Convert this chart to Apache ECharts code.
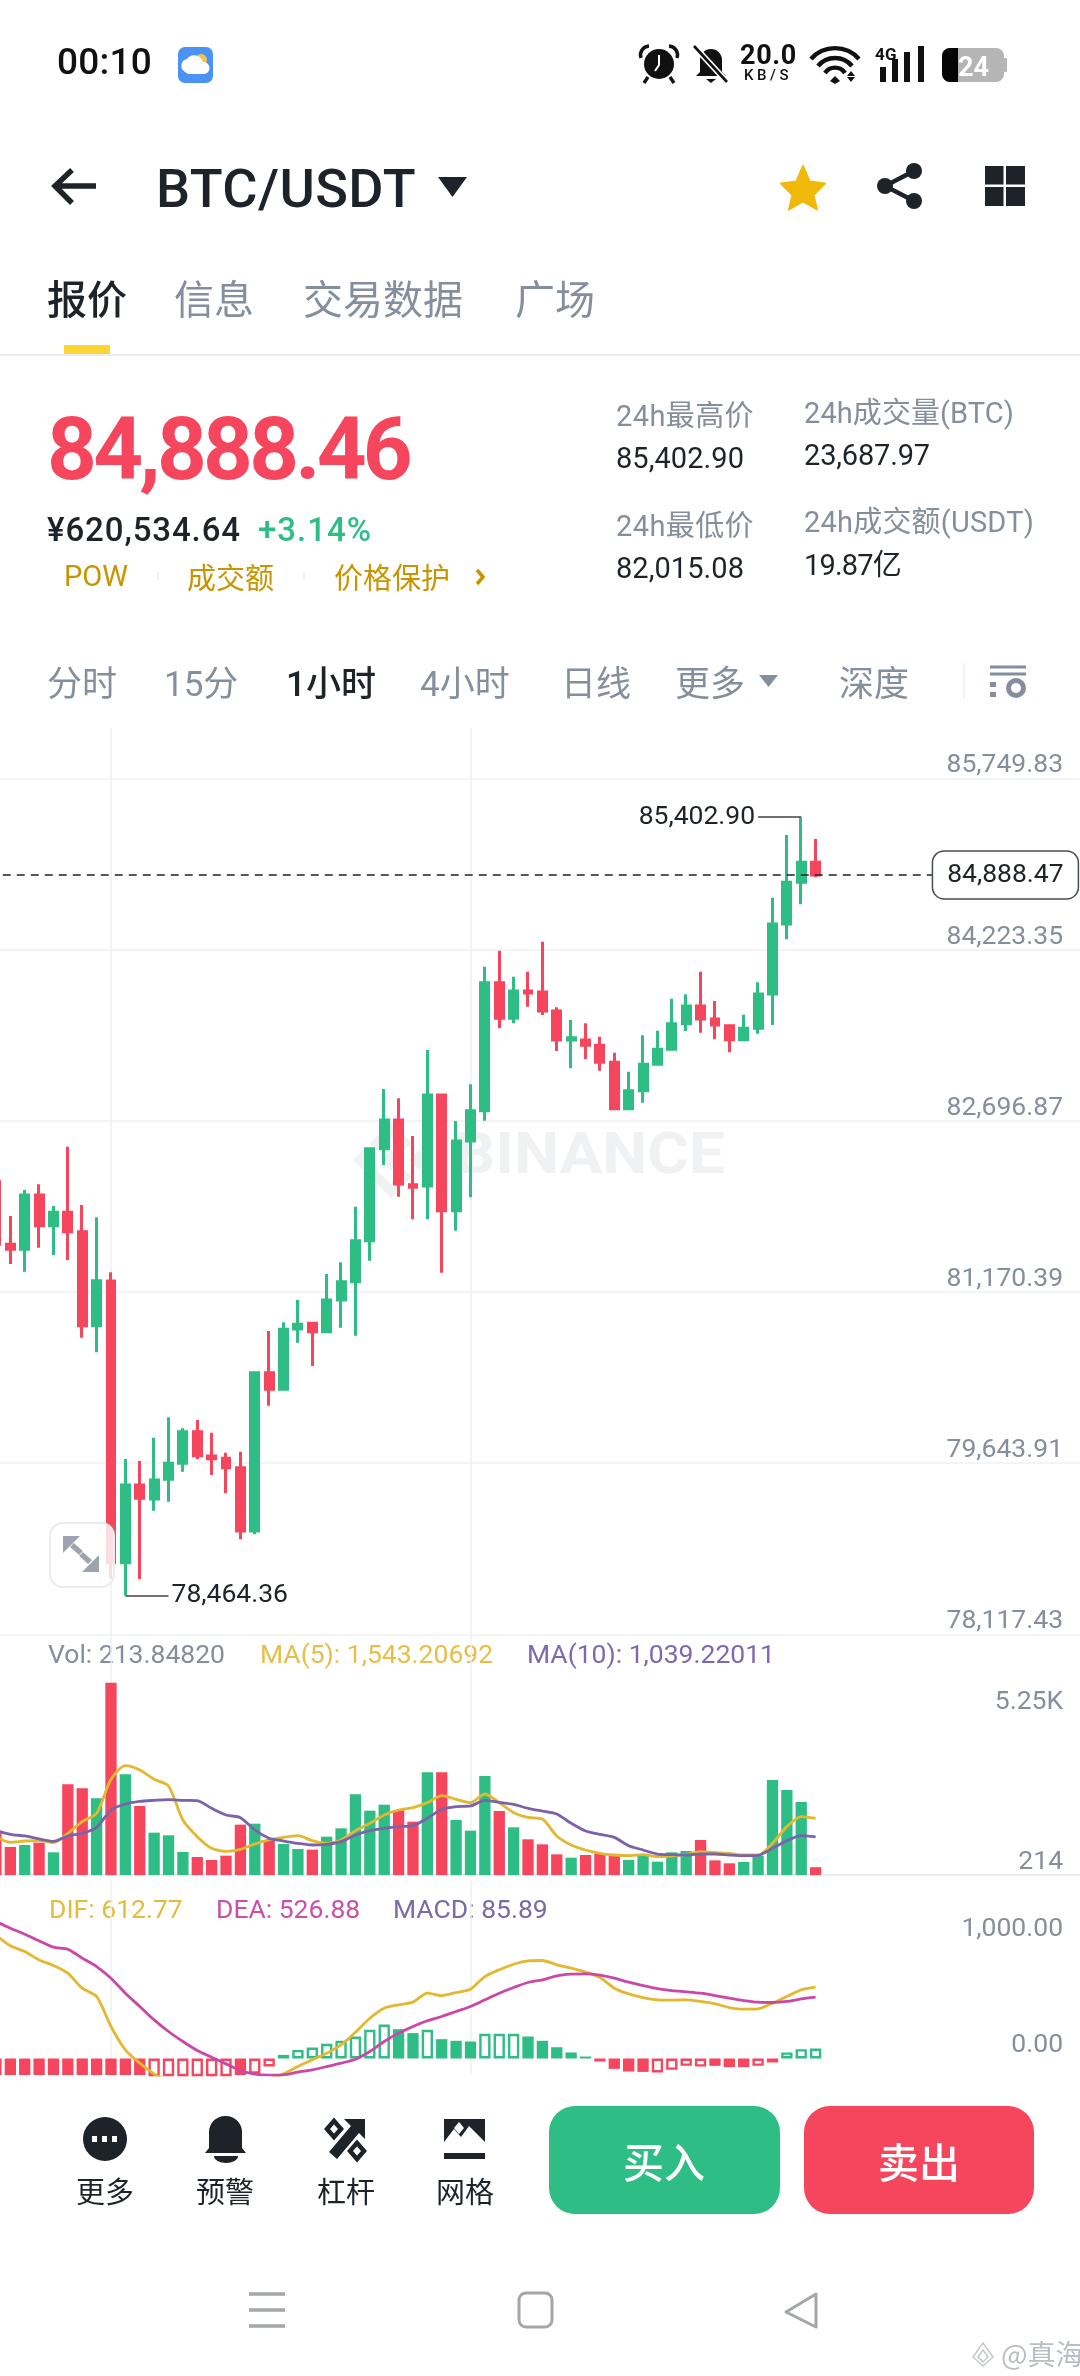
<!DOCTYPE html>
<html>
<head>
<meta charset="utf-8">
<style>
html,body{margin:0;padding:0;background:#fff;width:1080px;height:2376px;overflow:hidden;font-family:Roboto,"Noto Sans CJK SC",sans-serif}
#chart{position:absolute;left:0;top:0;width:1080px;height:2376px}
#ui{position:absolute;left:0;top:0;width:1080px;height:2376px;pointer-events:none}
.t{position:absolute;white-space:nowrap;transform:translateY(-50%);line-height:1.2}
svg{position:absolute;overflow:visible}
</style>
<script src="https://cdn.jsdelivr.net/npm/echarts@6/dist/echarts.min.js"></script>
</head>
<body>
<div id="chart"></div>
<div id="ui"></div>
<script>
// ---------- data ----------
const categories = ['c01','c02','c03','c04','c05','c06','c07','c08','c09','c10','c11','c12','c13','c14','c15','c16','c17','c18','c19','c20','c21','c22','c23','c24','c25','c26','c27','c28','c29','c30','c31','c32','c33','c34','c35','c36','c37','c38','c39','c40','c41','c42','c43','c44','c45','c46','c47','c48','c49','c50','c51','c52','c53','c54','c55','c56','c57','c58','f01','f02','f03','f04','f05','f06','f07','f08','f09','f10','f11','f12','f13','f14','f15','f16','f17','f18'];
const opens = [82153,81595,81550,82034,81761,81880,81707,80869,81268,78756,79449,79324,79500,79642,79924,79707,79687,79603,79039,80450,80302,80840,80891,80816,81098,81262,81627,82447,82703,82126,82115,82926,81894,82516,82786,83927,83610,83853,83844,83675,83416,83416,83369,83218,82804,82964,83200,83334,83562,83720,83604,83544,83419,83521,83827,84451,84822,85001];
const closes = [81595,81550,82034,81761,81880,81707,80869,81270,78756,79449,79330,79493,79642,79924,79710,79683,79603,79039,80450,80302,80837,80882,80816,81098,81262,81627,82447,82703,82133,82103,82926,81894,82516,82786,83927,83610,83853,83836,83675,83416,83437,83369,83218,82804,82964,83200,83334,83562,83720,83604,83550,83419,83521,83827,84451,84822,85001,84888.47];
const lows = [81544,81419,81351,81565,81500,81455,80762,80632,78611,78464.36,78611,79220,79300,79567,79681,79538,79375,78965,79009,80156,80300,80718,80510,80812,80851,80780,81449,82302,82019,81818,81818,81342,81716,82014,82697,83521,83565,83713,83639,83318,83164,83247,83143,82800,82792,82857,83195,83330,83497,83482,83423,83307,83415,83473,83550,84314,84626,84867];
const highs = [82213,81847,82079,82130,81936,82465,81945,81836,81345,79681,79663,79871,80052,79954,80028,79915,79737,79746,80455,80822,80900,81098,80905,81330,81434,81930,82450,82980,82897,82560,83327,82930,82694,83021,84070,84213,83981,84025,84293,83708,83595,83565,83446,83303,83134,83458,83499,83785,83824,84025,83764,83556,83642,83931,84685,85244,85402.90,85209];
const volumes = [1137,764,819,883,619,2475,2366,2093,5250,2748,1884,1156,1083,628,491,410,528,1374,1401,956,846,710,692,1047,1274,2202,1756,1920,1775,1456,2803,2803,1502,1210,2703,1747,1301,974,837,564,473,546,592,528,410,564,364,619,655,956,400,319,355,528,2594,2321,1993,213.85];
const ma5 = [1047,892,928,937,883,1138,1456,1684,2612,2985,2867,2612,2430,1502,1047,728,646,701,846,956,1028,1074,937,865,956,1210,1411,1638,1775,1838,1975,2166,2066,1975,2211,1975,1702,1574,1529,1065,819,683,592,546,528,555,501,519,564,637,610,592,546,546,865,1320,1593,1543.21];
const ma10 = [1210,1110,1065,983,919,1065,1138,1301,1775,1938,2011,2038,2057,2038,2029,1820,1638,1565,1229,1001,928,865,819,837,910,1092,1210,1274,1320,1347,1547,1793,1866,1884,2038,1984,1929,1820,1747,1665,1411,1201,1110,1028,801,683,573,555,546,573,573,546,528,537,728,937,1074,1039.22];
const dif = [1062,968,919,847,799,733,604,533,275,74,-40,-132,-190,-235,-270,-300,-310,-290,-240,-180,-132,-69,-11,46,117,226,346,432,461,484,561,541,567,595,704,762,810,839,842,805,776,742,696,604,555,524,504,501,504,490,470,438,424,427,475,533,590,612.77];
const dea = [1177,1119,1068,1011,956,939,862,790,690,561,447,332,232,146,69,11,-46,-103,-135,-143,-140,-117,-97,-69,-40,-6,60,146,218,275,324,361,404,447,504,561,610,653,676,710,724,727,716,690,656,627,601,584,573,561,541,518,498,484,481,490,512,526.88];
const macd = [-170,-180,-185,-190,-195,-209,-260,-300,-386,-450,-487,-500,-480,-440,-390,-340,-280,-210,-130,-68,31,74,94,126,152,189,246,292,252,218,246,166,152,146,212,212,212,189,152,97,52,17,-26,-89,-112,-115,-120,-97,-63,-69,-63,-74,-74,-63,-34,52,80,85.89];
const macdHollow = [0,0,0,0,0,0,0,0,0,0,0,1,1,1,1,1,1,0,1,1,0,1,1,1,1,1,1,1,0,0,1,0,0,0,1,1,1,0,0,0,0,0,0,0,0,0,1,1,1,1,0,0,0,1,0,1,1,1];
const priceTicks = [85749.83,84223.35,82696.87,81170.39,79643.91,78117.43];
const volTicks = [214,5250];
const macdTicks = [0,1000];
const lastPrice = 84888.47, dayHigh = 85402.90, dayLow = 78464.36;
const gridMarks = ['c09','c34'];

const GREEN='#2EBD85', RED='#F6465D', GREY='#858E9C', DARK='#1E2329', LINE='#EEF0F2';
const fontFam='Roboto,"Noto Sans CJK SC",sans-serif';
const AX=26.5;
const fmt2=v=>v.toLocaleString('en-US',{minimumFractionDigits:2,maximumFractionDigits:2});
const band=14.38, gl=-11.24, gw=band*categories.length;

const xa=(gi,extra)=>Object.assign({type:'category',gridIndex:gi,data:categories,boundaryGap:true,
  axisLabel:{show:false},axisTick:{show:false},axisLine:{show:false},splitLine:{show:false}},extra||{});
const labelBase={show:true,inside:true,color:GREY,fontSize:AX,fontFamily:fontFam,margin:18.6};

const option={
  animation:false,
  backgroundColor:'transparent',
  grid:[
    {left:gl,width:gw,top:727.5,height:906.8,outerBoundsMode:'none'},
    {left:gl,width:gw,top:1635,height:240,outerBoundsMode:'none'},
    {left:gl,width:gw,top:1880,height:195,outerBoundsMode:'none'}
  ],
  xAxis:[
    xa(0),
    xa(1,{axisLine:{show:true,onZero:true,lineStyle:{color:'#EAECEF',width:2}}}),
    xa(2)
  ],
  yAxis:[
    {type:'value',gridIndex:0,position:'right',min:78117.43,max:86202.8,scale:true,
     axisLine:{show:false},axisTick:{show:false,customValues:priceTicks},
     splitLine:{show:true,lineStyle:{color:'#EEF0F2',width:1.5}},
     axisLabel:Object.assign({},labelBase,{customValues:priceTicks,verticalAlign:'bottom',lineHeight:25,formatter:v=>fmt2(v)})},
    {type:'value',gridIndex:1,position:'right',min:0,max:6552,
     axisLine:{show:false},axisTick:{show:false,customValues:volTicks},splitLine:{show:false},
     axisLabel:Object.assign({},labelBase,{customValues:volTicks,verticalAlign:'middle',
       formatter:v=>v>=1000?'{hi|'+(v/1000).toFixed(2)+'K}':'{lo|'+v+'}',
       rich:{hi:{color:GREY,fontSize:AX,fontFamily:fontFam,padding:[40,0,0,0]},lo:{color:GREY,fontSize:AX,fontFamily:fontFam,padding:[0,0,10,0]}}})},
    {type:'value',gridIndex:2,position:'right',min:-141.7,max:1533.4,
     axisLine:{show:false},axisTick:{show:false,customValues:macdTicks},splitLine:{show:false},
     axisLabel:Object.assign({},labelBase,{customValues:macdTicks,verticalAlign:'bottom',lineHeight:26,formatter:v=>fmt2(v)})}
  ],
  graphic:{elements:[
    {type:'text',z:0,silent:true,x:725,y:1158,scaleX:1.1,
     style:{text:'BINANCE',fill:'#F0F1F2',font:'700 58px Roboto',textAlign:'right',textVerticalAlign:'middle'}},
    {type:'polygon',z:0,silent:true,shape:{points:[[381,1160],[391,1150],[401,1160],[391,1170]]},style:{fill:'#F0F1F2'}},
    {type:'polygon',z:0,silent:true,shape:{points:[[353,1160],[363,1150],[373,1160],[363,1170]]},style:{fill:'#F0F1F2'}},
    {type:'polygon',z:0,silent:true,shape:{points:[[409,1160],[419,1150],[429,1160],[419,1170]]},style:{fill:'#F0F1F2'}},
    {type:'polygon',z:0,silent:true,shape:{points:[[370,1143],[391,1122],[412,1143],[405,1150],[391,1136],[377,1150]]},style:{fill:'#F0F1F2'}},
    {type:'polygon',z:0,silent:true,shape:{points:[[370,1177],[391,1198],[412,1177],[405,1170],[391,1184],[377,1170]]},style:{fill:'#F0F1F2'}},
    {type:'text',x:48,y:1656,style:{text:'Vol: 213.84820',fill:GREY,font:AX+'px Roboto',textVerticalAlign:'middle'}},
    {type:'text',x:260,y:1656,style:{text:'MA(5): 1,543.20692',fill:'#E6BE48',font:AX+'px Roboto',textVerticalAlign:'middle'}},
    {type:'text',x:527,y:1656,style:{text:'MA(10): 1,039.22011',fill:'#7F69AE',font:AX+'px Roboto',textVerticalAlign:'middle'}},
    {type:'text',x:49,y:1911,style:{text:'DIF: 612.77',fill:'#E2BC3F',font:AX+'px Roboto',textVerticalAlign:'middle'}},
    {type:'text',x:216,y:1911,style:{text:'DEA: 526.88',fill:'#CC4EA9',font:AX+'px Roboto',textVerticalAlign:'middle'}},
    {type:'text',x:393,y:1911,style:{text:'MACD: 85.89',fill:'#7A6AA8',font:AX+'px Roboto',textVerticalAlign:'middle'}}
  ]},
  series:[
    {type:'line',xAxisIndex:0,yAxisIndex:0,data:[],z:1,silent:true,
     markLine:{z:1,silent:true,symbol:'none',animation:false,label:{show:false},lineStyle:{color:LINE,width:1.5,type:'solid'},data:gridMarks.map(c=>({xAxis:c}))}},
    {type:'line',xAxisIndex:1,yAxisIndex:1,data:[],z:1,silent:true,
     markLine:{z:1,silent:true,symbol:'none',animation:false,label:{show:false},lineStyle:{color:LINE,width:1.5,type:'solid'},data:gridMarks.map(c=>({xAxis:c}))}},
    {type:'line',xAxisIndex:2,yAxisIndex:2,data:[],z:1,silent:true,
     markLine:{z:1,silent:true,symbol:'none',animation:false,label:{show:false},lineStyle:{color:LINE,width:1.5,type:'solid'},data:gridMarks.map(c=>({xAxis:c}))}},
    {type:'candlestick',xAxisIndex:0,yAxisIndex:0,z:3,barWidth:8.4,
     data:opens.map((o,i)=>[o,closes[i],lows[i],highs[i]]),
     itemStyle:{color:GREEN,color0:RED,borderColor:GREEN,borderColor0:RED,borderWidth:3},
     markLine:{silent:true,symbol:'none',animation:false,z:5,
       data:[
         {yAxis:lastPrice,lineStyle:{color:DARK,width:1.6,type:[8,6]},
          label:{show:true,position:'insideEnd',distance:4,formatter:()=>fmt2(lastPrice),color:DARK,fontSize:AX,fontFamily:fontFam,
            backgroundColor:'#fff',borderColor:'#474D57',borderWidth:1.5,borderRadius:11,padding:[13,14,7,14]}},
         [{coord:['c57',dayHigh],lineStyle:{color:'#3C4249',width:1.5,type:'solid'},
           label:{show:true,position:'end',distance:3,formatter:()=>fmt2(dayHigh),color:DARK,fontSize:AX,fontFamily:fontFam}},
          {coord:['c54',dayHigh]}],
         [{coord:['c10',dayLow],lineStyle:{color:'#3C4249',width:1.5,type:'solid'},
           label:{show:true,position:'end',distance:3,formatter:()=>fmt2(dayLow),color:DARK,fontSize:AX,fontFamily:fontFam}},
          {coord:['c13',dayLow]}]
       ]}},
    {type:'bar',xAxisIndex:1,yAxisIndex:1,z:2,barWidth:11.3,
     data:volumes.map((v,i)=>({value:v,itemStyle:{color:closes[i]>=opens[i]?GREEN:RED}}))},
    {type:'line',xAxisIndex:1,yAxisIndex:1,z:3,data:ma5,symbol:'none',smooth:0.25,lineStyle:{color:'#E4B82E',width:2.8}},
    {type:'line',xAxisIndex:1,yAxisIndex:1,z:4,data:ma10,symbol:'none',smooth:0.25,lineStyle:{color:'#7C62AA',width:2.8}},
    {type:'bar',xAxisIndex:2,yAxisIndex:2,z:2,barWidth:11.3,clip:true,
     data:macd.map((v,i)=>{const c=v>=0?GREEN:RED;return {value:v,itemStyle:macdHollow[i]?{color:'#fff',borderColor:c,borderWidth:2.4}:{color:c}};})},
    {type:'line',xAxisIndex:2,yAxisIndex:2,z:3,data:dif,symbol:'none',smooth:0.25,clip:true,lineStyle:{color:'#E4B82E',width:2.8}},
    {type:'line',xAxisIndex:2,yAxisIndex:2,z:4,data:dea,symbol:'none',smooth:0.25,clip:true,lineStyle:{color:'#CC46A8',width:2.8}}
  ]
};
echarts.init(document.getElementById('chart'),null,{width:1080,height:2376,renderer:'canvas'}).setOption(option);

// ---------- app chrome around the chart ----------
const ui=document.getElementById('ui');
const CJK='"Noto Sans CJK SC",Roboto,sans-serif';
ui.insertAdjacentHTML('beforeend',`
<div style="position:absolute;left:64px;top:345px;width:46px;height:10px;background:#FCD535"></div>
<div style="position:absolute;left:0;top:354px;width:1080px;height:2px;background:#EAECEF"></div>
<div style="position:absolute;left:549px;top:2106px;width:231px;height:108px;background:${GREEN};border-radius:26px"></div>
<div style="position:absolute;left:804px;top:2106px;width:230px;height:108px;background:${RED};border-radius:26px"></div>
<div style="position:absolute;left:49px;top:1522px;width:62px;height:62px;background:rgba(255,255,255,.82);border:2px solid #EAECEF;border-radius:14px"></div>`);
function T(text,x,yc,size,color,w,weight,fam){
  const d=document.createElement('div');d.className='t';d.textContent=text;
  d.style.cssText+=`left:${x}px;top:${yc}px;font-size:${size}px;color:${color};font-weight:${weight||400};font-family:${fam||'Roboto,"Noto Sans CJK SC",sans-serif'}`;
  ui.appendChild(d);
  if(w){const r=d.getBoundingClientRect().width;d.style.letterSpacing=((w-r)/(text.length))+'px';}
}
T('00:10',57,62,37,'#111',95,500);
T('20.0',740,55,27,'#111',57,700);
T('KB/S',744,75,15,'#111',48,500);
T('4G',875,54,17,'#111',22,700);
T('BTC/USDT',156,189,54,DARK,260,500);
[['报价',47,DARK,500],['信息',174,GREY,400],['交易数据',303,GREY,400],['广场',515,GREY,400]].forEach(a=>T(a[0],a[1],297,40,a[2],0,a[3],CJK));
T('84,888.46',47,449,87,RED,362,700);
T('¥620,534.64',47,530,33,DARK,194,500);
T('+3.14%',258,530,33,GREEN,114,500);
T('POW',64,576,29,'#C99400',64,400);
T('成交额',187,576,29,'#C99400',0,400,CJK);
T('价格保护',334,576,29,'#C99400',0,400,CJK);
T('24h最高价',616,416,29,GREY,138);
T('85,402.90',616,458,29,DARK,128);
T('24h成交量(BTC)',804,413,29,GREY,210);
T('23,687.97',804,455,29,DARK,126);
T('24h最低价',616,526,29,GREY,138);
T('82,015.08',616,568,29,DARK,128);
T('24h成交额(USDT)',804,522,29,GREY,230);
T('19.87亿',804,565,29,DARK,97);
[['分时',47,GREY,400],['15分',164,GREY,400],['1小时',286,DARK,500],['4小时',420,GREY,400],['日线',561,GREY,400],['更多',675,GREY,400],['深度',839,GREY,400]].forEach(a=>T(a[0],a[1],685,35,a[2],0,a[3]));
[['更多',76],['预警',196],['杠杆',317],['网格',436]].forEach(a=>T(a[0],a[1],2190,29,DARK,0,400,CJK));
T('买入',623,2161,41,'#fff',0,500,CJK);
T('卖出',878,2161,41,'#fff',0,500,CJK);
T('@真海',1001,2354,28,'#B9BDC4',0,400,CJK);

ui.insertAdjacentHTML('beforeend',`
<svg width="1080" height="2376" style="left:0;top:0">
 <!-- weather -->
 <rect x="178" y="47" width="35" height="36" rx="7" fill="#4A93F5"/>
 <circle cx="201" cy="60" r="6" fill="#F6C343"/>
 <path d="M185 72a7 7 0 0 1 2-13a9 9 0 0 1 16 3a6 6 0 0 1 1 12h-16z" fill="#fff"/>
 <!-- alarm -->
 <circle cx="659" cy="64" r="15" fill="#111"/><path d="M659 55v10l-4 6" stroke="#fff" stroke-width="2" fill="none"/>
 <path d="M641 58a9 9 0 0 1 8-12M677 58a9 9 0 0 0-8-12M648 77l-4 6M670 77l4 6" stroke="#111" stroke-width="3.4" fill="none"/>
 <!-- mute -->
 <path d="M711 49a11 11 0 0 1 11 11v12l4 4h-30l4-4v-12a11 11 0 0 1 11-11z" fill="#111"/><path d="M706 79h10l-5 4z" fill="#111"/>
 <path d="M694 46l33 36" stroke="#fff" stroke-width="6"/><path d="M694 46l33 36" stroke="#111" stroke-width="2.6"/>
 <!-- wifi -->
 <g fill="none" stroke="#111" stroke-width="4.4"><path d="M811 59a32 32 0 0 1 48 0"/><path d="M818 66a22 22 0 0 1 34 0"/><path d="M825 73a12 12 0 0 1 20 0"/></g>
 <path d="M835 76l5 5-5 3-5-3z" fill="#111"/><path d="M851 71l4 5h-8zM851 82l4-5h-8z" fill="#111"/>
 <!-- signal -->
 <rect x="880" y="67" width="6" height="15" fill="#111"/><rect x="892" y="59" width="6" height="23" fill="#111"/><rect x="904" y="52" width="6" height="30" fill="#111"/><rect x="918" y="46" width="6" height="36" fill="#111"/>
 <!-- battery -->
 <rect x="942" y="48" width="62" height="34" rx="8" fill="#B5B5B5"/><path d="M950 48h8v34h-8a8 8 0 0 1-8-8v-18a8 8 0 0 1 8-8z" fill="#050505"/>
 <rect x="1004" y="58" width="3" height="14" rx="1" fill="#B5B5B5"/>
 <text x="958" y="76" font-family="Roboto" font-weight="700" font-size="27" fill="#fff">24</text>
 <!-- back arrow -->
 <path d="M96 186H58M72 170L55 186L72 203" fill="none" stroke="${DARK}" stroke-width="5.5"/>
 <path d="M438 177h29l-14.500 20z" fill="${DARK}"/>
 <!-- star -->
 <path d="M803 166l6.500 15.500 15.500 2-11.500 11.500 3.500 14.500-14-8-14 8 3.500-14.500-11.500-11.500 15.500-2z" fill="#F0B90B" stroke="#F0B90B" stroke-width="2" stroke-linejoin="round"/>
 <!-- share -->
 <g fill="${DARK}"><circle cx="914" cy="171" r="8"/><circle cx="885" cy="186" r="8"/><circle cx="914" cy="201" r="8"/></g>
 <path d="M914 171l-29 15 29 15" fill="none" stroke="${DARK}" stroke-width="4.500"/>
 <!-- layout -->
 <g fill="${DARK}"><rect x="985" y="166" width="18.500" height="18.500"/><rect x="1006" y="166" width="19" height="18.500"/><rect x="985" y="187" width="18.500" height="19"/><rect x="1006" y="187" width="19" height="19"/></g>
 <!-- small marks -->
 <path d="M477 570l6 7-6 7" fill="none" stroke="#C99400" stroke-width="3.500"/>
 <path d="M158 572v8M304 572v8" stroke="#EAECEF" stroke-width="1.500"/>
 <path d="M759 675h19l-9.500 12z" fill="${GREY}"/>
 <path d="M964 663v35" stroke="#EAECEF" stroke-width="1.500"/>
 <path d="M990 667h36M990 674h36" stroke="${GREY}" stroke-width="3"/><rect x="990" y="682" width="6" height="5" fill="${GREY}"/><rect x="990" y="692" width="6" height="5" fill="${GREY}"/>
 <circle cx="1016" cy="688" r="7.500" fill="none" stroke="${GREY}" stroke-width="5"/>
 <!-- expand -->
 <g fill="#9EA4AF"><path d="M63 1536h17l-17 17z"/><path d="M99 1572h-17l17-17z"/></g>
 <path d="M71 1544l20 20" stroke="#9EA4AF" stroke-width="0"/>
 <path d="M72 1545l9 8M81 1554l9 8" stroke="#9EA4AF" stroke-width="5.500"/>
 <!-- bottom icons -->
 <circle cx="105" cy="2139" r="22" fill="${DARK}"/><g fill="#fff"><rect x="92" y="2136" width="5" height="6"/><rect x="102" y="2136" width="5" height="6"/><rect x="112" y="2136" width="5" height="6"/></g>
 <path d="M226 2116a16 16 0 0 1 16 16v16l4 5h-41l4-5v-16a16 16 0 0 1 17-16z" fill="${DARK}"/><path d="M214 2156h24a12 7 0 0 1-24 0z" fill="${DARK}"/>
 <path d="M365 2119v20l-6-6-22 26-8-7 22-26-7-7z" fill="${DARK}"/>
 <g fill="none" stroke="${DARK}" stroke-width="4.500"><path d="M334 2121l7 8-7 8-7-8z"/><path d="M357 2143l7 8-7 8-7-8z"/></g>
 <path d="M444 2119h41v27h-41z" fill="${DARK}"/><path d="M444 2153h41v6h-41z" fill="${DARK}"/>
 <path d="M444 2146v-4l10-13 7 8 8-11 16 16v4z" fill="#fff"/><path d="M459 2122l5 6-5 6-5-6zM473 2131l5 6-5 6-5-6z" fill="#fff"/>
 <!-- nav -->
 <path d="M249 2294h36M249 2310h36M249 2326h36" stroke="#A3A6AA" stroke-width="3.600"/>
 <rect x="519" y="2293" width="33" height="34" rx="7" fill="none" stroke="#A3A6AA" stroke-width="3"/>
 <path d="M816 2294v33l-30-15z" fill="none" stroke="#A3A6AA" stroke-width="3" stroke-linejoin="round"/>
 <path d="M983 2343l10 14-10 9-10-9zM983 2350l5 7-5 5-5-5z" fill="none" stroke="#C4C8CE" stroke-width="1.500"/>
</svg>`);
</script>
</body>
</html>
